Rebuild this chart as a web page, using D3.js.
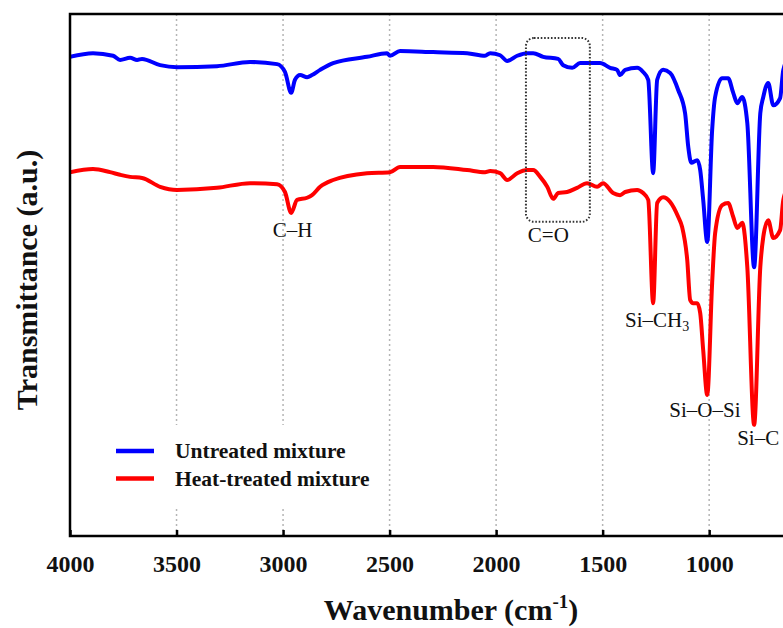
<!DOCTYPE html>
<meta charset="utf-8">
<style type="text/css">

body { margin: 0; background: #fff; }

svg { font-family: "Times New Roman", "Liberation Serif", serif; }

.frame {
  stroke: #000;
  stroke-width: 2.5;
  fill: none;
}

.grid line {
  stroke: #b5b5b5;
  stroke-width: 1.5;
  stroke-dasharray: 2, 3;
}

.spectrum {
  fill: none;
  stroke-width: 4;
  stroke-linejoin: round;
}

.label {
  font-size: 21px;
  fill: #111;
}

.tick text {
  font-family: "Times New Roman", "Liberation Serif", serif;
  font-size: 24px;
  font-weight: bold;
  fill: #111;
}

.legend text {
  font-size: 21.5px;
  font-weight: bold;
  fill: #111;
}

</style>
<svg width="783" height="628"></svg>
<script src="https://d3js.org/d3.v7.min.js"></script>
<script>

// wavenumber (cm-1) / transmittance (a.u.)
var blueWave = [4000, 3892, 3798, 3765, 3718, 3685, 3662, 3577, 3498, 3310, 3155, 3028, 2991, 2962, 2944, 2920, 2887, 2864, 2826, 2765,
                2606, 2512, 2498, 2451, 2296, 2136, 2052, 2028, 1981, 1948, 1901, 1854, 1826, 1779, 1709, 1685, 1643, 1606, 1559, 1512,
                1465, 1432, 1418, 1394, 1338, 1310, 1286, 1263, 1244, 1216, 1183, 1145, 1113, 1098, 1084, 1056, 1042, 1028, 1009, 986,
                972, 939, 911, 887, 868, 845, 821, 789, 760, 746, 723, 699, 667, 652, 620, 580];
var blueT = [91.8, 92.5, 92.0, 91.2, 91.6, 91.2, 91.4, 90.2, 89.8, 90.0, 90.8, 90.4, 88.9, 84.9, 87.4, 88.3, 87.9, 88.3, 89.3, 90.6,
             91.8, 92.5, 92.0, 92.9, 92.7, 92.5, 92.0, 92.5, 92.1, 91.0, 92.0, 92.5, 92.5, 91.8, 91.4, 90.2, 89.7, 90.6, 90.6, 90.6,
             89.7, 89.3, 88.3, 89.3, 89.7, 88.9, 87.4, 69.5, 87.4, 89.3, 88.7, 85.4, 81.0, 74.5, 71.5, 72.0, 70.1, 64.4, 56.3, 77.8,
             84.1, 87.7, 87.7, 84.9, 82.9, 84.1, 79.1, 51.5, 81.0, 84.1, 86.8, 82.5, 83.9, 89.3, 92.0, 92.5];

var redWave = [4000, 3892, 3812, 3765, 3718, 3662, 3577, 3498, 3310, 3155, 3028, 2991, 2962, 2934, 2887, 2864, 2826, 2765, 2606, 2498,
               2451, 2296, 2136, 2052, 2028, 1981, 1948, 1901, 1854, 1826, 1793, 1760, 1732, 1709, 1667, 1620, 1573, 1526, 1498, 1451,
               1418, 1394, 1338, 1310, 1286, 1263, 1244, 1216, 1183, 1145, 1127, 1103, 1089, 1075, 1056, 1042, 1028, 1009, 986, 972,
               939, 911, 887, 868, 845, 821, 789, 760, 746, 723, 699, 667, 652, 620, 580];
var redT = [69.7, 70.3, 69.7, 69.2, 68.8, 68.6, 66.9, 66.3, 66.7, 67.6, 67.4, 65.9, 61.9, 64.4, 64.8, 65.3, 66.9, 68.2, 69.5, 69.7,
            70.7, 70.7, 70.1, 69.7, 69.9, 69.5, 68.2, 69.5, 70.1, 70.1, 68.8, 66.9, 64.6, 65.7, 65.9, 66.7, 67.6, 66.9, 67.6, 65.7,
            65.3, 65.9, 66.3, 65.7, 64.4, 44.6, 63.8, 64.9, 64.0, 61.1, 59.2, 52.9, 45.2, 44.6, 44.6, 42.7, 35.6, 27.0, 48.5, 58.0,
            63.4, 63.8, 61.1, 59.0, 60.0, 51.5, 21.3, 51.5, 57.3, 60.5, 57.1, 58.6, 64.4, 67.6, 69.0];

var seriesNames = ["Untreated mixture", "Heat-treated mixture"];
var seriesColors = ["#0000ff", "#ff0000"];
var tickValues = [4000, 3500, 3000, 2500, 2000, 1500, 1000];

// band labels: [text, wavenumber, transmittance at baseline]
var bands = [
  ["C\u2013H", 2955, 57.3],
  ["C=O", 1755, 56.3],
  ["Si\u2013O\u2013Si", 1020, 22.8],
  ["Si\u2013C", 770, 17.4]
];
var ch3Label = [1395, 40.0];
var boxRange = [1860, 1560, 95.4, 60.2];

var svg = d3.select("svg"),
    plotLeft = 70, plotRight = 837, plotTop = 14, plotBottom = 536;

var x = d3.scaleLinear().domain([4000, 400]).range([plotLeft, plotRight]);
var y = d3.scaleLinear().domain([0, 100]).range([plotBottom, plotTop]);

svg.append("defs").append("clipPath").attr("id", "plot")
  .append("rect").attr("x", plotLeft).attr("y", plotTop)
  .attr("width", plotRight - plotLeft).attr("height", plotBottom - plotTop);

// grid
svg.append("g").attr("class", "grid")
  .selectAll("line").data(tickValues.slice(1))
  .enter().append("line")
    .attr("x1", d => x(d)).attr("x2", d => x(d))
    .attr("y1", plotTop).attr("y2", plotBottom);

// spectra
var line = d3.line()
  .x(d => x(d[0]))
  .y(d => y(d[1]))
  .curve(d3.curveMonotoneX);

var series = [d3.zip(blueWave, blueT), d3.zip(redWave, redT)];

svg.append("g").attr("clip-path", "url(#plot)")
  .selectAll("path").data(series)
  .enter().append("path")
    .attr("class", "spectrum")
    .attr("stroke", (d, i) => seriesColors[i])
    .attr("d", line);

// dotted box round the C=O band
svg.append("rect")
  .attr("x", x(boxRange[0])).attr("y", y(boxRange[2]))
  .attr("width", x(boxRange[1]) - x(boxRange[0]))
  .attr("height", y(boxRange[3]) - y(boxRange[2]))
  .attr("rx", 8).attr("ry", 8)
  .attr("fill", "none")
  .attr("stroke", "#333")
  .attr("stroke-width", 2)
  .attr("stroke-dasharray", "1.6,1.8");

// band labels
svg.append("g").selectAll("text").data(bands)
  .enter().append("text")
    .attr("class", "label")
    .attr("x", d => x(d[1])).attr("y", d => y(d[2]))
    .attr("text-anchor", "middle")
    .text(d => d[0]);

var ch3 = svg.append("text").attr("class", "label")
  .attr("x", x(ch3Label[0])).attr("y", y(ch3Label[1]));
ch3.append("tspan").text("Si\u2013CH");
ch3.append("tspan").attr("font-size", 14).attr("dy", 4).text("3");

// legend
var legend = svg.append("g").attr("class", "legend");
legend.append("rect").attr("x", 100).attr("y", 425).attr("width", 282).attr("height", 82).attr("fill", "#fff");
var item = legend.selectAll(".item").data(seriesNames)
  .enter().append("g").attr("class", "item")
    .attr("transform", (d, i) => "translate(116," + (451 + i * 27.5) + ")");
item.append("line")
  .attr("x1", 0).attr("x2", 38)
  .attr("stroke", (d, i) => seriesColors[i])
  .attr("stroke-width", 4.5);
item.append("text").attr("x", 59).attr("y", 7).text(d => d);

// axes and frame
var xAxis = d3.axisBottom(x).tickValues(tickValues).tickFormat(d3.format("d")).tickSize(-6).tickPadding(0);
var gx = svg.append("g").attr("transform", "translate(0," + plotBottom + ")").call(xAxis);
gx.attr("font-family", null).attr("font-size", null);
gx.select(".domain").remove();
gx.selectAll(".tick line").attr("stroke", "#000").attr("stroke-width", 2.5);
gx.selectAll(".tick text").attr("y", 36).attr("dy", 0);

svg.append("path").attr("class", "frame")
  .attr("d", "M" + plotRight + "," + plotTop + "H" + plotLeft + "V" + plotBottom + "H" + plotRight);

// axis titles
var xt = svg.append("text")
  .attr("x", 451).attr("y", 620)
  .attr("text-anchor", "middle")
  .attr("font-size", 30).attr("font-weight", "bold").attr("fill", "#111");
xt.append("tspan").text("Wavenumber (cm");
xt.append("tspan").attr("font-size", 19).attr("dy", -12).text("-1");
xt.append("tspan").attr("dy", 12).text(")");

svg.append("text")
  .attr("transform", "translate(37,280) rotate(-90)")
  .attr("text-anchor", "middle")
  .attr("font-size", 30).attr("font-weight", "bold").attr("fill", "#111")
  .text("Transmittance (a.u.)");

</script>
